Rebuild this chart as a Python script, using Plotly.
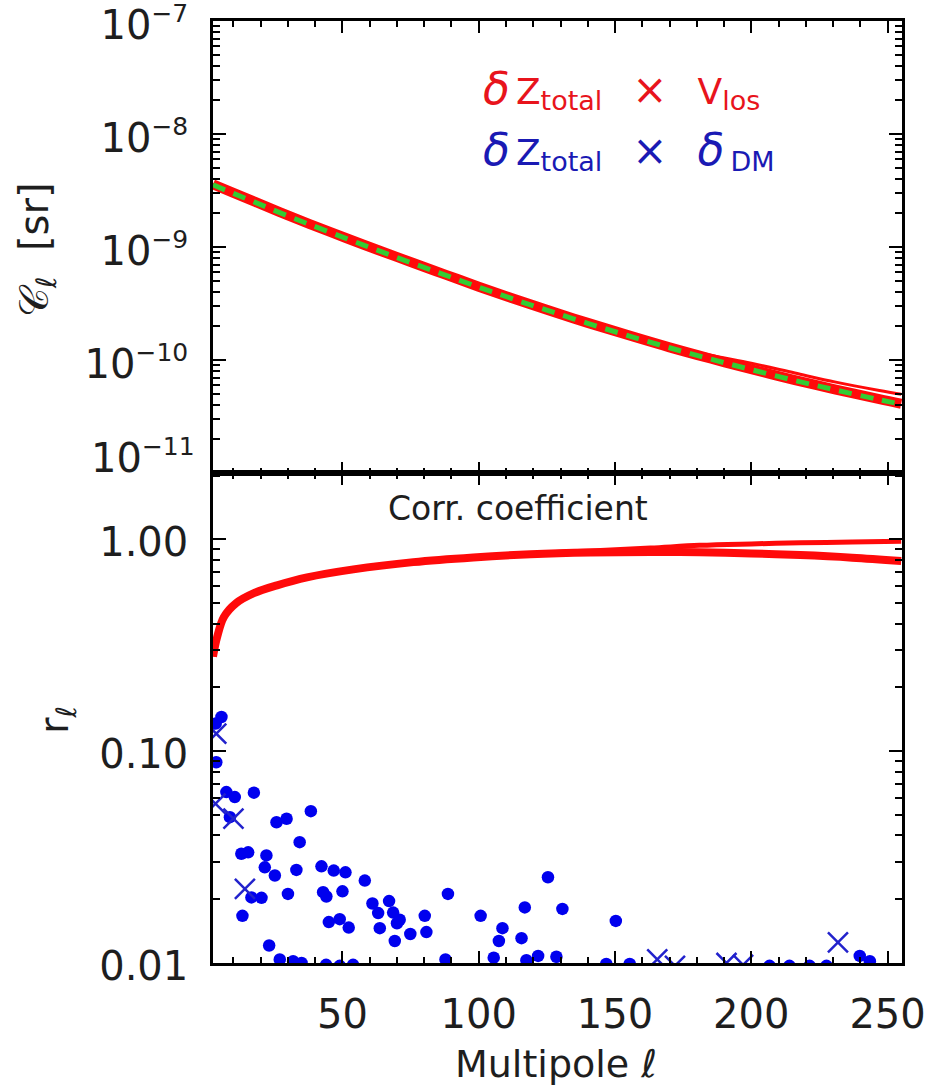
import plotly.graph_objects as go

# ---------------- data ----------------
# top panel: angular power spectra C_l [sr]
ell_c = [2.5, 10, 18, 27, 38, 51.5, 63, 76, 88, 100, 112, 125, 140, 155, 170, 185, 200, 216, 231, 247, 255]
cl_thick = [3.6e-9, 3.02e-9, 2.51e-9, 2.04e-9, 1.60e-9, 1.20e-9, 9.44e-10, 7.24e-10, 5.69e-10,
            4.47e-10, 3.55e-10, 2.79e-10, 2.14e-10, 1.66e-10, 1.30e-10, 1.035e-10, 8.32e-11,
            6.68e-11, 5.50e-11, 4.52e-11, 4.12e-11]
cl_thin = [3.6e-9, 3.02e-9, 2.51e-9, 2.04e-9, 1.60e-9, 1.20e-9, 9.44e-10, 7.24e-10, 5.69e-10,
           4.47e-10, 3.55e-10, 2.79e-10, 2.15e-10, 1.68e-10, 1.34e-10, 1.11e-10, 9.4e-11,
           7.7e-11, 6.4e-11, 5.4e-11, 5.0e-11]
cl_green = [3.56e-9, 2.99e-9, 2.49e-9, 2.02e-9, 1.585e-9, 1.19e-9, 9.35e-10, 7.17e-10, 5.64e-10,
            4.43e-10, 3.52e-10, 2.77e-10, 2.12e-10, 1.645e-10, 1.29e-10, 1.025e-10, 8.25e-11,
            6.62e-11, 5.45e-11, 4.48e-11, 4.08e-11]

# bottom panel: correlation coefficient r_l
ell_r = [2.5, 4, 6.5, 11, 17.5, 26, 37, 54, 76, 98, 119, 141, 163, 181, 200, 218, 237, 255]
r_vlos_a = [0.28, 0.345, 0.43, 0.50, 0.557, 0.607, 0.662, 0.722, 0.781, 0.825, 0.856, 0.882, 0.91,
            0.937, 0.952, 0.963, 0.972, 0.98]
r_vlos_b = [0.28, 0.345, 0.43, 0.50, 0.557, 0.607, 0.662, 0.722, 0.781, 0.822, 0.851, 0.867, 0.872,
            0.869, 0.858, 0.843, 0.82, 0.79]

# delta_DM correlation, dots
ell_dm_dot = [3.5, 5.6, 3.7, 7.4, 10.5, 17.5, 8.7, 12.9, 15.4, 16.6, 20.3, 13.3, 22.1, 21.5, 25.2,
              25.8, 29.5, 34.3, 38.4, 33.1, 30.0, 23.1, 27.0, 31.9, 35.0, 42.3, 46.8, 51.1, 42.9,
              44.1, 50.0, 45.0, 49.0, 52.3, 44.0, 49.0, 53.9, 58.2, 61.0, 63.1, 67.1, 68.6, 71.0,
              70.0, 63.7, 69.2, 74.9, 80.2, 80.8, 88.7, 87.8, 100.7, 108.7, 107.4, 105.5, 116.9,
              115.7, 117.5, 121.8, 125.4, 130.7, 128.5, 150.3, 146.8, 155.4, 206.7, 214.0, 221.4,
              227.6, 239.8, 243.5]
r_dm_dot = [0.135, 0.145, 0.0887, 0.0641, 0.0607, 0.0637, 0.0488, 0.0328, 0.0333, 0.0204, 0.0203,
            0.0167, 0.0322, 0.0283, 0.0259, 0.0462, 0.048, 0.0372, 0.0521, 0.0275, 0.0212, 0.0121,
            0.0104, 0.0102, 0.0100, 0.0286, 0.0273, 0.0268, 0.0216, 0.0206, 0.0218, 0.0156, 0.0161,
            0.0147, 0.0098, 0.0097, 0.0098, 0.0245, 0.0191, 0.0172, 0.0196, 0.0173, 0.016, 0.0154,
            0.0146, 0.0127, 0.0137, 0.0167, 0.014, 0.0212, 0.0104, 0.0167, 0.0146, 0.0127, 0.0106,
            0.0183, 0.0131, 0.0103, 0.0108, 0.0254, 0.018, 0.0107, 0.0158, 0.0099, 0.0099, 0.0097,
            0.0097, 0.0097, 0.0097, 0.0108, 0.0102]

# delta_DM correlation, crosses
ell_dm_x = [3.7, 3.4, 10.0, 14.2, 165.5, 172.0, 190.9, 197.0, 231.8]
r_dm_x = [0.121, 0.0565, 0.048, 0.0224, 0.0104, 0.0097, 0.0100, 0.0098, 0.0125]

top_ticks = [1e-7, 1e-8, 1e-9, 1e-10]
top_exps = ["\u22127", "\u22128", "\u22129", "\u221210"]
bot_ticks = [0.01, 0.1, 1.0]
bot_ticktext = ["0.01", "0.10", "1.00"]
x_ticks = [50, 100, 150, 200, 250]

# ---------------- layout helpers ----------------
W, H = 926, 1091
L, R, T, B = 213, 24, 21, 128
PW, PH = W - L - R, H - T - B


def px(x):
    return (x - L) / PW


def py(y):
    return (H - B - y) / PH


def pow10(e):
    return "10<sup><span style='font-size:25px'>" + e + "</span></sup>"


split = py(473.3)
FONT = "DejaVu Sans"
TXT = "#1e1e1e"
RED = "#ff0a0a"
BLUE = "#0000ee"

fig = go.Figure()

# top panel
fig.add_trace(go.Scatter(x=ell_c, y=cl_thin, mode="lines", xaxis="x", yaxis="y",
                         line=dict(color=RED, width=3, shape="spline")))
fig.add_trace(go.Scatter(x=ell_c, y=cl_thick, mode="lines", xaxis="x", yaxis="y",
                         line=dict(color=RED, width=10, shape="spline")))
fig.add_trace(go.Scatter(x=ell_c, y=cl_green, mode="lines", xaxis="x", yaxis="y",
                         line=dict(color="#33cc33", width=5, dash="13px,9px", shape="spline")))

# bottom panel
fig.add_trace(go.Scatter(x=ell_r, y=r_vlos_b, mode="lines", xaxis="x2", yaxis="y2",
                         line=dict(color=RED, width=8, shape="spline")))
fig.add_trace(go.Scatter(x=ell_r, y=r_vlos_a, mode="lines", xaxis="x2", yaxis="y2",
                         line=dict(color=RED, width=5, shape="spline")))
fig.add_trace(go.Scatter(x=ell_dm_dot, y=r_dm_dot, mode="markers", xaxis="x2", yaxis="y2",
                         marker=dict(color=BLUE, size=12.5, line=dict(width=0))))
fig.add_trace(go.Scatter(x=ell_dm_x, y=r_dm_x, mode="markers", xaxis="x2", yaxis="y2",
                         marker=dict(symbol="x-thin", size=20, color="#2222cc",
                                     line=dict(color="#2222cc", width=2.5))))

common_x = dict(range=[2.5, 255.3], tickvals=x_ticks, ticks="inside", ticklen=12, tickwidth=2,
                tickcolor="black", mirror="allticks", showline=True, linecolor="black",
                linewidth=2.5, showgrid=False, zeroline=False, automargin=False,
                minor=dict(dtick=10, tick0=0, ticks="inside", ticklen=6, tickwidth=1.5,
                           tickcolor="black", showgrid=False))
common_y = dict(ticks="inside", ticklen=13, tickwidth=2, tickcolor="black", mirror="allticks",
                showline=True, linecolor="black", linewidth=2.5, showgrid=False, zeroline=False,
                ticklabelstandoff=14, ticklabeloverflow="allow", automargin=False,
                tickfont=dict(family=FONT, size=40, color=TXT),
                minor=dict(dtick="D1", ticks="inside", ticklen=7, tickwidth=1.5,
                           tickcolor="black", showgrid=False))

fig.update_layout(
    width=W, height=H,
    margin=dict(l=L, r=R, t=T, b=B, autoexpand=False),
    paper_bgcolor="white", plot_bgcolor="white",
    showlegend=False,
    font=dict(family=FONT, size=40, color=TXT),
    xaxis=dict(domain=[0, 1], anchor="y", showticklabels=False, **common_x),
    xaxis2=dict(domain=[0, 1], anchor="y2", showticklabels=True, ticklabelstandoff=14,
                ticklabeloverflow="allow",
                tickfont=dict(family=FONT, size=40, color=TXT), **common_x),
    yaxis=dict(domain=[split, 1], anchor="x", type="log", range=[-11, -6.9998],
               tickvals=top_ticks, ticktext=[pow10(e) for e in top_exps],
               ticklabelshift=4, **common_y),
    yaxis2=dict(domain=[0, split], anchor="x2", type="log", range=[-2, 0.312],
                tickvals=bot_ticks, ticktext=bot_ticktext, ticklabelshift=3, **common_y),
)

ann = []
# displaced 10^-11 label
ann.append(dict(text=pow10("\u221211"), x=px(197), y=py(456), xref="paper", yref="paper",
                xanchor="right", yanchor="middle", showarrow=False,
                font=dict(family=FONT, size=40, color=TXT)))
# y titles
ann.append(dict(text="\U0001D49E<sub>\u2113</sub>  [sr]", x=px(37), y=py(250), xref="paper",
                yref="paper", xanchor="center", yanchor="middle", textangle=-90, showarrow=False,
                font=dict(family=FONT, size=40, color=TXT)))
ann.append(dict(text="r<sub>\u2113</sub>", x=px(57), y=py(720), xref="paper",
                yref="paper", xanchor="center", yanchor="middle", textangle=-90, showarrow=False,
                font=dict(family=FONT, size=40, color=TXT)))
# x title
ann.append(dict(text="Multipole <i>\u2113</i>", x=px(556), y=py(1064), xref="paper",
                yref="paper", xanchor="center", yanchor="middle", showarrow=False,
                font=dict(family=FONT, size=38, color=TXT)))
# panel label
ann.append(dict(text="Corr. coefficient", x=px(518), y=py(508), xref="paper", yref="paper",
                xanchor="center", yanchor="middle", showarrow=False,
                font=dict(family=FONT, size=33, color=TXT)))

# legend texts
D = "<span style='font-size:44px'><i>\u03b4</i></span>\u2009"
Z = "<span style='font-size:36px'>Z</span>"
SUB = "<sub><span style='font-size:27px'>{}</span></sub>"
X = "<span style='font-size:42px'>\u00d7</span>"
SP = "\u2002\u2002"
red_txt = D + Z + SUB.format("total") + SP + X + SP + "<span style='font-size:36px'>V</span>" + SUB.format("los")
blue_txt = D + Z + SUB.format("total") + SP + X + SP + D + SUB.format("DM")
ann.append(dict(text=red_txt, x=px(481), y=py(90), xref="paper", yref="paper", xanchor="left",
                yanchor="middle", showarrow=False, font=dict(family=FONT, size=30, color="#e8141c")))
ann.append(dict(text=blue_txt, x=px(481), y=py(151), xref="paper", yref="paper", xanchor="left",
                yanchor="middle", showarrow=False, font=dict(family=FONT, size=30, color="#1a1ab4")))
fig.update_layout(annotations=ann)

fig.write_html("out.html")
